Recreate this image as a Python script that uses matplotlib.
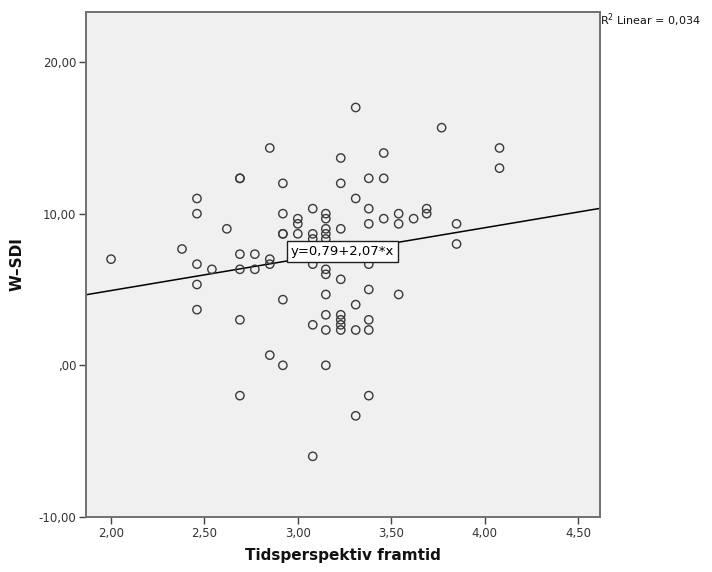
import matplotlib
matplotlib.use("Agg")
import matplotlib.pyplot as plt
from matplotlib.ticker import FixedLocator, FuncFormatter

# Tidsperspektiv framtid (x) and W-SDI (y)
tid_framtid = [
    2.00,
    2.38,
    2.46, 2.46, 2.46, 2.46, 2.46,
    2.54,
    2.62,
    2.69, 2.69, 2.69, 2.69, 2.69, 2.69,
    2.77, 2.77,
    2.85, 2.85, 2.85, 2.85,
    2.92, 2.92, 2.92, 2.92, 2.92, 2.92,
    3.00, 3.00, 3.00,
    3.08, 3.08, 3.08, 3.08, 3.08, 3.08,
    3.15, 3.15, 3.15, 3.15, 3.15, 3.15, 3.15, 3.15, 3.15, 3.15, 3.15,
    3.23, 3.23, 3.23, 3.23, 3.23, 3.23, 3.23, 3.23,
    3.31, 3.31, 3.31, 3.31, 3.31,
    3.38, 3.38, 3.38, 3.38, 3.38, 3.38, 3.38, 3.38,
    3.46, 3.46, 3.46,
    3.54, 3.54, 3.54,
    3.62,
    3.69, 3.69,
    3.77,
    3.85, 3.85,
    4.08, 4.08,
]
w_sdi = [
    7.00,
    7.67,
    11.00, 10.00, 6.67, 5.33, 3.67,
    6.33,
    9.00,
    12.33, 12.33, 7.33, 6.33, 3.00, -2.00,
    7.33, 6.33,
    14.33, 7.00, 6.67, 0.67,
    12.00, 10.00, 8.67, 8.67, 4.33, 0.00,
    9.67, 9.33, 8.67,
    10.33, 8.67, 8.33, 6.67, 2.67, -6.00,
    10.00, 9.67, 9.00, 8.67, 8.33, 6.33, 6.00, 4.67, 3.33, 2.33, 0.00,
    13.67, 12.00, 9.00, 5.67, 3.33, 3.00, 2.67, 2.33,
    17.00, 11.00, 4.00, 2.33, -3.33,
    12.33, 10.33, 9.33, 6.67, 5.00, 3.00, 2.33, -2.00,
    14.00, 12.33, 9.67,
    10.00, 9.33, 4.67,
    9.67,
    10.33, 10.00,
    15.67,
    9.33, 8.00,
    14.33, 13.00,
]

# fit line reported by SPSS
intercept = 0.79
slope = 2.07
r2_text = "R$^2$ Linear = 0,034"

x_ticks = [2.0, 2.5, 3.0, 3.5, 4.0, 4.5]
y_ticks = [-10, 0, 10, 20]


def spss_fmt(v, pos=None):
    s = f"{v:.2f}".replace(".", ",")
    if s.startswith("0,"):
        s = s[1:]
    return s


def main():
    fig = plt.figure(figsize=(7.12, 5.72), dpi=100)
    ax = fig.add_axes([0.1208, 0.0962, 0.7219, 0.8829])
    ax.set_facecolor("#f0f0f0")

    xmin, xmax = 1.866, 4.618
    ax.set_xlim(xmin, xmax)
    ax.set_ylim(-10, 23.3)

    ax.scatter(tid_framtid, w_sdi, s=36, facecolors="none",
               edgecolors="#3a3a3a", linewidths=1.0, zorder=3)

    ax.plot([xmin, xmax], [intercept + slope * xmin, intercept + slope * xmax],
            color="black", lw=1.1, zorder=2)

    ax.text(3.24, 7.5, "y=0,79+2,07*x", ha="center", va="center",
            fontsize=9.5, color="black", zorder=4,
            bbox=dict(boxstyle="square,pad=0.3", fc="white", ec="#202020", lw=1))

    ax.xaxis.set_major_locator(FixedLocator(x_ticks))
    ax.yaxis.set_major_locator(FixedLocator(y_ticks))
    ax.xaxis.set_major_formatter(FuncFormatter(spss_fmt))
    ax.yaxis.set_major_formatter(FuncFormatter(spss_fmt))
    ax.tick_params(direction="out", length=5, width=1.0, color="#404040",
                   labelsize=8.5, labelcolor="#333333", pad=2)

    for sp in ax.spines.values():
        sp.set_color("#707070")
        sp.set_linewidth(1.4)

    ax.set_xlabel("Tidsperspektiv framtid", fontsize=11, fontweight="bold",
                  color="#111111", labelpad=6)
    ax.set_ylabel("W\u2013SDI", fontsize=11, fontweight="bold",
                  color="#111111", labelpad=10)

    fig.text(0.843, 0.965, r2_text, fontsize=8, ha="left", va="center",
             color="#111111")

    fig.savefig("out.png", dpi=100)
    plt.close(fig)


if __name__ == "__main__":
    main()
